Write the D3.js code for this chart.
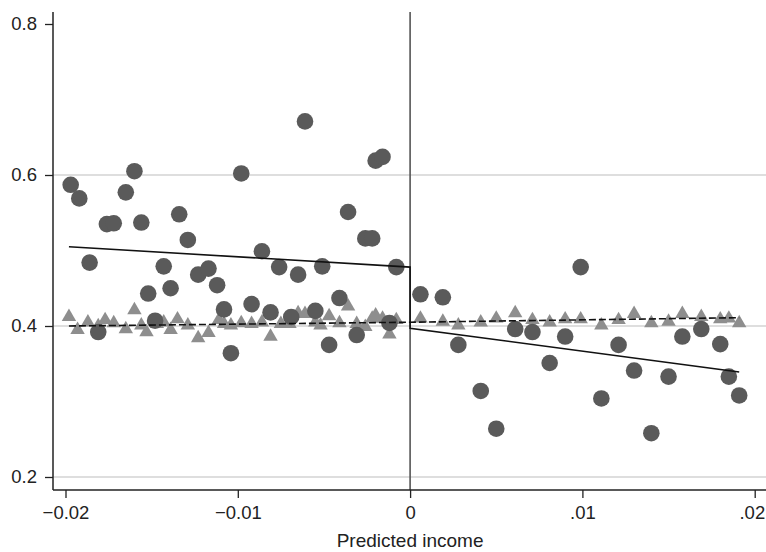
<!DOCTYPE html>
<html>
<head>
<meta charset="utf-8">
<script src="https://cdn.jsdelivr.net/npm/d3@7"></script>
<style>
  body { margin: 0; background: #fff; }
  svg { display: block; font-family: "Liberation Sans", Arial, Helvetica, sans-serif; }
</style>
</head>
<body>
<div id="chart"></div>
<script>
// circles (dark) : binned outcome
const circleX = [-0.0197, -0.0192, -0.0186, -0.0181, -0.0176, -0.0172, -0.0165, -0.0160, -0.0156, -0.0152,
  -0.0148, -0.0143, -0.0139, -0.0134, -0.0129, -0.0123, -0.0117, -0.0112, -0.0108, -0.0104,
  -0.0098, -0.0092, -0.0086, -0.0081, -0.0076, -0.0069, -0.0065, -0.0061, -0.0055, -0.0051,
  -0.0047, -0.0041, -0.0036, -0.0031, -0.0026, -0.0022, -0.0020, -0.0016, -0.0012, -0.0008,
  0.0006, 0.0019, 0.0028, 0.0041, 0.0050, 0.0061, 0.0071, 0.0081, 0.0090, 0.0099,
  0.0111, 0.0121, 0.0130, 0.0140, 0.0150, 0.0158, 0.0169, 0.0180, 0.0185, 0.0191];
const circleY = [0.587, 0.569, 0.484, 0.392, 0.535, 0.536, 0.577, 0.605, 0.537, 0.443,
  0.407, 0.479, 0.450, 0.548, 0.514, 0.468, 0.476, 0.454, 0.422, 0.364,
  0.602, 0.429, 0.499, 0.418, 0.478, 0.412, 0.468, 0.671, 0.420, 0.479,
  0.375, 0.437, 0.551, 0.388, 0.516, 0.516, 0.619, 0.624, 0.404, 0.478,
  0.442, 0.438, 0.375, 0.314, 0.264, 0.396, 0.392, 0.351, 0.386, 0.478,
  0.304, 0.375, 0.341, 0.258, 0.333, 0.386, 0.396, 0.376, 0.333, 0.308];

// triangles (light) : placebo outcome
const triX = [-0.0198, -0.0193, -0.0187, -0.0181, -0.0177, -0.0172, -0.0165, -0.0160, -0.0156, -0.0153,
  -0.0147, -0.0143, -0.0139, -0.0135, -0.0129, -0.0123, -0.0117, -0.0111, -0.0108, -0.0104,
  -0.0098, -0.0092, -0.0086, -0.0081, -0.0075, -0.0070, -0.0065, -0.0061, -0.0055, -0.0052,
  -0.0047, -0.0041, -0.0036, -0.0031, -0.0026, -0.0022, -0.0020, -0.0016, -0.0012, -0.0008,
  0.0006, 0.0019, 0.0028, 0.0041, 0.0050, 0.0061, 0.0071, 0.0081, 0.0090, 0.0099,
  0.0111, 0.0121, 0.0130, 0.0140, 0.0150, 0.0158, 0.0169, 0.0180, 0.0185, 0.0191];
const triY = [0.412, 0.395, 0.405, 0.400, 0.408, 0.404, 0.396, 0.421, 0.401, 0.392,
  0.403, 0.405, 0.395, 0.409, 0.401, 0.384, 0.391, 0.408, 0.403, 0.401,
  0.404, 0.403, 0.405, 0.386, 0.403, 0.403, 0.417, 0.416, 0.405, 0.401,
  0.413, 0.404, 0.426, 0.403, 0.399, 0.410, 0.414, 0.410, 0.389, 0.408,
  0.410, 0.406, 0.401, 0.405, 0.410, 0.417, 0.408, 0.405, 0.409, 0.409,
  0.401, 0.408, 0.416, 0.404, 0.406, 0.416, 0.412, 0.409, 0.410, 0.404];

// linear fits on each side of the cutoff
const fitSolid = [[-0.0198, 0.505], [0, 0.478], [0, 0.397], [0.0191, 0.339]];
const fitDashed = [[-0.0198, 0.400], [0, 0.405], [0.0191, 0.411]];

const xTicks = [-0.02, -0.01, 0, 0.01, 0.02];
const xTickLabels = ['\u22120.02', '\u22120.01', '0', '.01', '.02'];
const yTicks = [0.2, 0.4, 0.6, 0.8];
const yTickLabels = ['0.2', '0.4', '0.6', '0.8'];
const gridTicks = [0.2, 0.4, 0.6];
const xTitle = 'Predicted income';

const width = 766, height = 552;
const plot = { left: 53, right: 766, top: 12, bottom: 490 };

const svg = d3.select('#chart').append('svg')
  .attr('width', width)
  .attr('height', height);

const xScale = d3.scaleLinear().domain([-0.02, 0.02]).range([65.5, 754.7]);
const yScale = d3.scaleLinear().domain([0.2, 0.8]).range([477, 24]);

/* ---------- grid ---------- */
svg.append('g').attr('class', 'grid')
  .selectAll('line')
  .data(gridTicks)
  .enter().append('line')
  .attr('x1', plot.left).attr('x2', plot.right)
  .attr('y1', d => yScale(d)).attr('y2', d => yScale(d))
  .style('stroke', '#dedede')
  .style('stroke-width', 1.8);

/* ---------- cutoff line ---------- */
svg.append('line')
  .attr('x1', xScale(0)).attr('x2', xScale(0))
  .attr('y1', plot.top).attr('y2', plot.bottom)
  .style('stroke', '#555')
  .style('stroke-width', 1.6);

/* ---------- axes ---------- */
svg.append('g')
  .attr('class', 'axis axis--x')
  .attr('transform', 'translate(0,' + plot.bottom + ')')
  .call(d3.axisBottom(xScale)
    .tickValues(xTicks)
    .tickSize(8)
    .tickPadding(8)
    .tickFormat((d, i) => xTickLabels[i]));

svg.append('g')
  .attr('class', 'axis axis--y')
  .attr('transform', 'translate(' + plot.left + ',0)')
  .call(d3.axisLeft(yScale)
    .tickValues(yTicks)
    .tickSize(8)
    .tickPadding(8)
    .tickFormat((d, i) => yTickLabels[i]));

svg.selectAll('.axis .domain').remove();
svg.selectAll('.axis .tick line').style('stroke', '#222').style('stroke-width', 1.3);
svg.selectAll('.axis .tick text')
  .style('font-size', '18.5px')
  .style('fill', '#222')
  .style('font-family', '"Liberation Sans", Arial, sans-serif');

// last x label sits against the right edge, keep it inside
svg.selectAll('.axis--x .tick:last-of-type text')
  .style('text-anchor', 'end')
  .attr('x', 10);

svg.append('line')
  .attr('x1', plot.left).attr('x2', plot.left)
  .attr('y1', plot.top).attr('y2', plot.bottom)
  .style('stroke', '#222').style('stroke-width', 1.5);
svg.append('line')
  .attr('x1', plot.left).attr('x2', plot.right)
  .attr('y1', plot.bottom).attr('y2', plot.bottom)
  .style('stroke', '#222').style('stroke-width', 1.5);

svg.append('text')
  .attr('class', 'axis-title')
  .attr('x', xScale(0))
  .attr('y', 547)
  .style('text-anchor', 'middle')
  .style('font-size', '19px')
  .style('fill', '#222')
  .text(xTitle);

/* ---------- markers ---------- */
const tri = d3.symbol().type(d3.symbolTriangle).size(90);

svg.append('g').attr('class', 'tri-g')
  .selectAll('path')
  .data(triX.map((x, i) => ({ x: x, y: triY[i] })))
  .enter().append('path')
  .attr('d', tri)
  .attr('transform', d => 'translate(' + xScale(d.x) + ',' + yScale(d.y) + ')')
  .style('fill', '#8e8e8e');

svg.append('g').attr('class', 'dot-g')
  .selectAll('circle')
  .data(circleX.map((x, i) => ({ x: x, y: circleY[i] })))
  .enter().append('circle')
  .attr('r', 8.3)
  .attr('cx', d => xScale(d.x))
  .attr('cy', d => yScale(d.y))
  .style('fill', '#5a5a5a');

/* ---------- fit lines ---------- */
const line = d3.line()
  .x(d => xScale(d[0]))
  .y(d => yScale(d[1]));

svg.append('path')
  .datum(fitDashed)
  .attr('d', line)
  .style('fill', 'none')
  .style('stroke', '#111')
  .style('stroke-width', 1.6)
  .style('stroke-dasharray', '7,3');

svg.append('path')
  .datum(fitSolid)
  .attr('d', line)
  .style('fill', 'none')
  .style('stroke', '#111')
  .style('stroke-width', 1.6);
</script>
</body>
</html>
